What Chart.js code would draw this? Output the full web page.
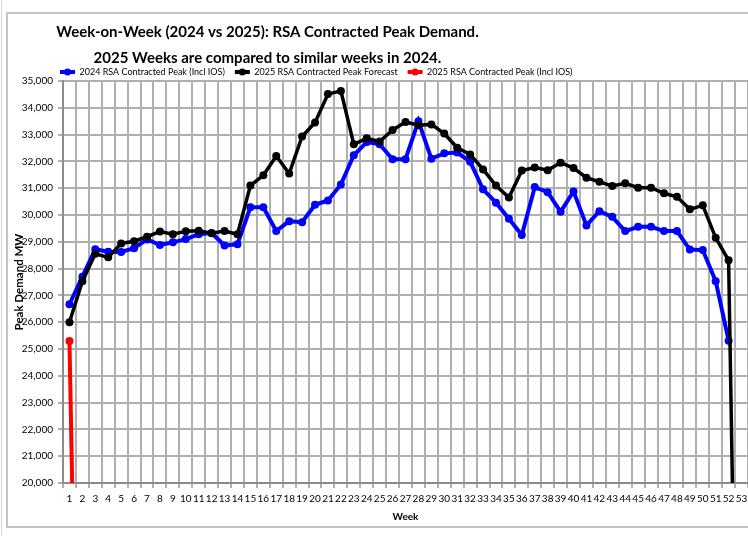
<!DOCTYPE html>
<html>
<head>
<meta charset="utf-8">
<script src="https://cdn.jsdelivr.net/npm/chart.js@4.4.1/dist/chart.umd.min.js"></script>
<style>
  html, body { margin: 0; padding: 0; background: #fff; }
</style>
</head>
<body>
<canvas id="myChart" width="748" height="536"></canvas>
<script>
// Week numbers on the x axis
const weeks = ['1', '2', '3', '4', '5', '6', '7', '8', '9', '10',
  '11', '12', '13', '14', '15', '16', '17', '18', '19', '20',
  '21', '22', '23', '24', '25', '26', '27', '28', '29', '30',
  '31', '32', '33', '34', '35', '36', '37', '38', '39', '40',
  '41', '42', '43', '44', '45', '46', '47', '48', '49', '50',
  '51', '52', '53'];

// 2024 RSA Contracted Peak (Incl IOS), MW
const peak2024 = [26670, 27700, 28720, 28630, 28620, 28760, 29090, 28880, 28980, 29100,
  29280, 29330, 28860, 28910, 30290, 30290, 29400, 29770, 29730, 30380,
  30540, 31140, 32230, 32720, 32640, 32080, 32080, 33500, 32100, 32300,
  32330, 31990, 30960, 30460, 29860, 29250, 31040, 30850, 30120, 30880,
  29610, 30140, 29930, 29400, 29560, 29560, 29400, 29400, 28710, 28690,
  27530, 25310];

// 2025 RSA Contracted Peak Forecast, MW
const forecast2025 = [26000, 27530, 28550, 28420, 28940, 29020, 29190, 29380, 29280, 29390,
  29410, 29320, 29400, 29280, 31100, 31480, 32200, 31550, 32930, 33450,
  34510, 34630, 32640, 32860, 32740, 33170, 33470, 33350, 33380, 33040,
  32510, 32260, 31700, 31100, 30650, 31660, 31770, 31670, 31950, 31750,
  31390, 31240, 31080, 31180, 31020, 31020, 30810, 30680, 30210, 30360,
  29150, 28310, 0];

// 2025 RSA Contracted Peak (Incl IOS), MW
const actual2025 = [25300, 0];

const yMin = 20000;
const yMax = 35000;
const yStep = 1000;

Chart.defaults.font.family = 'Lato, "Liberation Sans", sans-serif';
Chart.defaults.color = '#000';

const gridColor = '#b0b0b0';
const axisColor = '#8c8c8c';

// page frame, like the Excel chart border
const frame = {
  id: 'frame',
  beforeDraw(chart) {
    const ctx = chart.ctx;
    ctx.save();
    ctx.fillStyle = '#fff';
    ctx.fillRect(0, 0, chart.width, chart.height);
    ctx.strokeStyle = '#d6d6d6';
    ctx.lineWidth = 1;
    ctx.beginPath();
    ctx.moveTo(1.5, 0);
    ctx.lineTo(1.5, chart.height);
    ctx.stroke();
    ctx.strokeStyle = '#c4c4c4';
    ctx.lineWidth = 2;
    ctx.strokeRect(7, 13, chart.width + 20, 514);
    ctx.restore();
  }
};

// move title and legend where Excel put them
const placeBlocks = {
  id: 'placeBlocks',
  afterLayout(chart) {
    const t = chart.titleBlock;
    t.top = 19;
    t.bottom = t.top + t.height;
    t.left = 0;
    t.right = 535;
    const l = chart.legend;
    l.top = 57.5;
    l.bottom = l.top + l.height;
    l.left = 50;
  },
  afterDraw(chart) {
    // y axis title sits over the tick labels, and the legend lines get a marker dot
    const ctx = chart.ctx;
    const area = chart.chartArea;
    ctx.save();
    ctx.translate(19, (area.top + area.bottom) / 2);
    ctx.rotate(-Math.PI / 2);
    ctx.font = 'bold 11.5px Lato';
    ctx.fillStyle = '#000';
    ctx.textAlign = 'center';
    ctx.textBaseline = 'middle';
    ctx.fillText('Peak Demand MW', 0, 0);
    ctx.restore();

    const l = chart.legend;
    ctx.save();
    l.legendHitBoxes.forEach((hb, i) => {
      ctx.fillStyle = l.legendItems[i].strokeStyle;
      ctx.beginPath();
      ctx.arc(hb.left + 7.5, hb.top + 4.5, 3.5, 0, Math.PI * 2);
      ctx.fill();
    });
    ctx.restore();
  }
};

const ctx = document.getElementById('myChart');

const myChart = new Chart(ctx, {
  type: 'line',
  data: {
    labels: weeks,
    datasets: [{
      label: '2024 RSA Contracted Peak (Incl IOS)',
      data: peak2024,
      borderColor: '#0000ff',
      backgroundColor: '#0000ff',
      borderWidth: 4,
      pointRadius: 4,
      pointBorderWidth: 0,
      order: 2
    }, {
      label: '2025 RSA Contracted Peak Forecast',
      data: forecast2025,
      borderColor: '#000000',
      backgroundColor: '#000000',
      borderWidth: 3.5,
      pointRadius: 4,
      pointBorderWidth: 0,
      order: 1
    }, {
      label: '2025 RSA Contracted Peak (Incl IOS)',
      data: actual2025,
      borderColor: '#ff0000',
      backgroundColor: '#ff0000',
      borderWidth: 4,
      pointRadius: 4,
      pointBorderWidth: 0,
      order: 0
    }]
  },
  options: {
    responsive: false,
    animation: false,
    layout: { padding: 0, autoPadding: false },
    elements: { line: { tension: 0 } },
    scales: {
      x: {
        offset: true,
        grid: { offset: true, color: gridColor, lineWidth: 2, tickLength: 5 },
        border: { color: axisColor, width: 2 },
        ticks: { autoSkip: false, maxRotation: 0, minRotation: 0, padding: 5, font: { size: 10 } },
        title: { display: true, text: 'Week', font: { size: 10, weight: 'bold' }, padding: { top: 0, bottom: 13 } },
        afterFit(scale) {
          scale.height = 53;
          scale.paddingRight = 0;
        }
      },
      y: {
        min: yMin,
        max: yMax,
        grid: { color: gridColor, lineWidth: 2, tickLength: 5 },
        border: { color: axisColor, width: 2 },
        ticks: {
          stepSize: yStep,
          padding: 5,
          font: { size: 10 },
          callback: v => v.toLocaleString('en-US')
        },
        afterFit(scale) { scale.width = 63; }
      }
    },
    plugins: {
      title: {
        display: true,
        text: ['Week-on-Week (2024 vs 2025): RSA Contracted Peak Demand.',
               '2025 Weeks are compared to similar weeks in 2024.'],
        font: { size: 15, weight: 'bold', lineHeight: 1.733 },
        color: '#000',
        padding: 0
      },
      legend: {
        align: 'start',
        labels: {
          boxWidth: 15,
          boxHeight: 4,
          padding: 10,
          font: { size: 9 },
          color: '#000',
          generateLabels(chart) {
            const items = Chart.defaults.plugins.legend.labels.generateLabels(chart);
            items.forEach(it => { it.lineWidth = 0; it.fillStyle = it.strokeStyle; });
            return items;
          },
          sort: (a, b) => a.datasetIndex - b.datasetIndex
        }
      },
      tooltip: { enabled: false }
    }
  },
  plugins: [frame, placeBlocks]
});
</script>
</body>
</html>
